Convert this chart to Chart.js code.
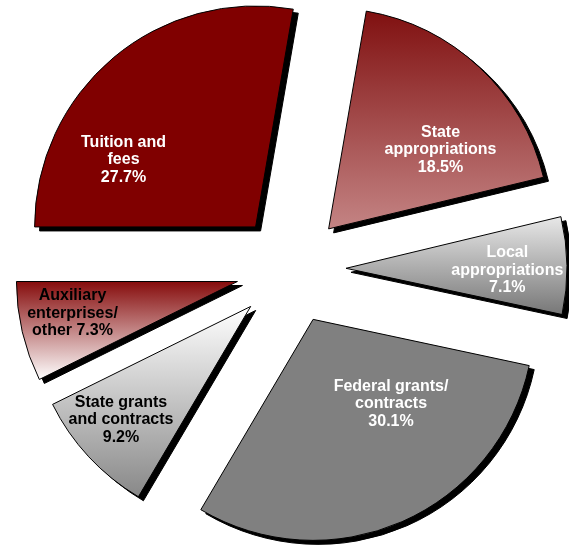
<!DOCTYPE html>
<html>
<head>
<meta charset="utf-8">
<script src="https://cdn.jsdelivr.net/npm/chart.js@4/dist/chart.umd.min.js"></script>
<style>
  html, body { margin: 0; padding: 0; background: #fff; }
  #wrap { width: 569px; height: 546px; }
</style>
</head>
<body>
<div id="wrap"><canvas id="revenueChart" width="569" height="546"></canvas></div>
<script>
// revenue sources, clockwise from 9 o'clock
var categories = ['Tuition and fees', 'State appropriations', 'Local appropriations',
  'Federal grants/contracts', 'State grants and contracts', 'Auxiliary enterprises/other'];
var shares = [27.7, 18.5, 7.1, 30.1, 9.2, 7.3];
// how each label breaks onto lines, the share goes on the end
var labelText = ['Tuition and\nfees\n', 'State\nappropriations\n', 'Local\nappropriations\n',
  'Federal grants/\ncontracts\n', 'State grants\nand contracts\n', 'Auxiliary\nenterprises/\nother '];

// top / bottom colour of each wedge
var fills = [['#800000', '#800000'], ['#801010', '#c48484'], ['#e8e8e8', '#777777'],
  ['#808080', '#808080'], ['#ffffff', '#888888'], ['#860c0c', '#ffffff']];
var textColors = ['#fff', '#fff', '#fff', '#fff', '#000', '#000'];
// label spot: fraction of radius out from the wedge tip, turn off the mid line in degrees
var labelSpots = [[0.67, -23], [0.62, 11.6], [0.73, 1.5], [0.52, -19], [0.78, 1.7], [0.76, 2.3]];

var explode = 55;        // how far each wedge is pulled out
var shadowShift = [5, 4]; // the black "depth" under each wedge

function wedgeBox(arc) {
  var p = arc.getProps(['x', 'y', 'startAngle', 'endAngle', 'outerRadius'], true);
  var top = p.y, bottom = p.y;
  for (var i = 0; i <= 60; i++) {
    var a = p.startAngle + (p.endAngle - p.startAngle) * i / 60;
    var y = p.y + Math.sin(a) * p.outerRadius;
    top = Math.min(top, y);
    bottom = Math.max(bottom, y);
  }
  var mid = (p.startAngle + p.endAngle) / 2;
  return { p: p, top: top, bottom: bottom, mid: mid,
    dx: Math.cos(mid) * explode, dy: Math.sin(mid) * explode };
}

function drawArcWith(ctx, arc, dx, dy, opts) {
  var base = arc.options;
  ctx.save();
  ctx.translate(dx, dy);
  arc.options = Object.assign({}, base, opts);
  arc.draw(ctx);
  arc.options = base;
  ctx.restore();
}

var explodedPie = {
  id: 'explodedPie',
  beforeDatasetDraw: function (chart, args) {
    var ctx = chart.ctx;
    var arcs = args.meta.data;
    // depth shadows go down first
    arcs.forEach(function (arc) {
      var w = wedgeBox(arc);
      drawArcWith(ctx, arc, w.dx + shadowShift[0], w.dy + shadowShift[1],
        { backgroundColor: '#000', borderColor: '#000' });
    });
    arcs.forEach(function (arc, i) {
      var w = wedgeBox(arc);
      var g = ctx.createLinearGradient(0, w.top, 0, w.bottom);
      g.addColorStop(0, fills[i][0]);
      g.addColorStop(1, fills[i][1]);
      drawArcWith(ctx, arc, w.dx, w.dy, { backgroundColor: g });
    });
    return false;
  },
  afterDatasetsDraw: function (chart) {
    var ctx = chart.ctx;
    var arcs = chart.getDatasetMeta(0).data;
    ctx.save();
    ctx.font = 'bold 16px "Liberation Sans", Arial, sans-serif';
    ctx.textAlign = 'center';
    ctx.textBaseline = 'middle';
    arcs.forEach(function (arc, i) {
      var w = wedgeBox(arc);
      var ang = w.mid + labelSpots[i][1] * Math.PI / 180;
      var dist = labelSpots[i][0] * w.p.outerRadius;
      var x = w.p.x + w.dx + Math.cos(ang) * dist;
      var y = w.p.y + w.dy + Math.sin(ang) * dist;
      var lines = (labelText[i] + shares[i].toFixed(1) + '%').split('\n');
      var lh = 17.5;
      ctx.fillStyle = textColors[i];
      lines.forEach(function (t, k) {
        ctx.fillText(t, x, y + (k - (lines.length - 1) / 2) * lh);
      });
    });
    ctx.restore();
  }
};

var ctx = document.getElementById('revenueChart').getContext('2d');
var revenueChart = new Chart(ctx, {
  type: 'pie',
  data: {
    labels: categories,
    datasets: [{
      data: shares,
      backgroundColor: fills.map(function (f) { return f[0]; }),
      borderColor: '#000',
      borderWidth: 1,
      hoverOffset: 0
    }]
  },
  options: {
    responsive: false,
    animation: false,
    events: [],
    rotation: 270,
    radius: 221,
    layout: { padding: { left: 13, right: 0, top: 0, bottom: 8 } },
    plugins: {
      legend: { display: false },
      tooltip: { enabled: false }
    }
  },
  plugins: [explodedPie]
});
</script>
</body>
</html>
